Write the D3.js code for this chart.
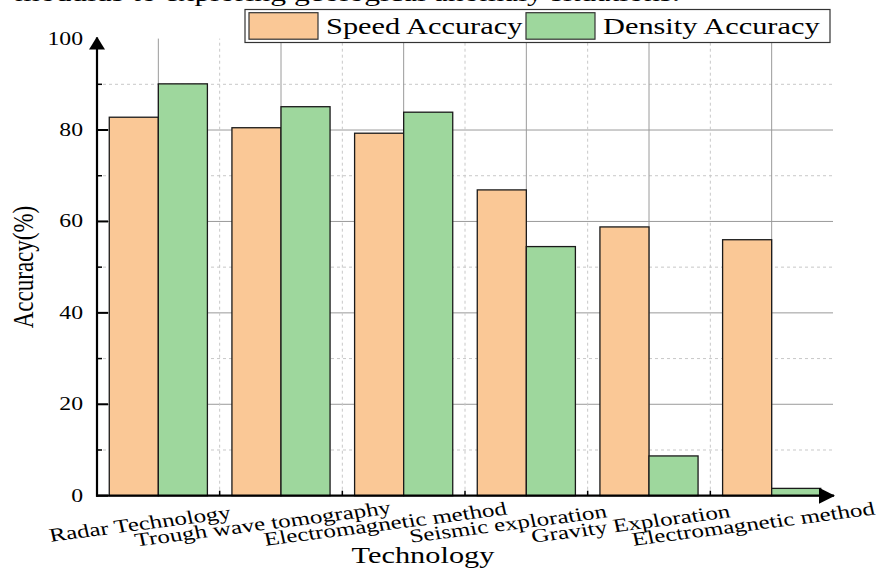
<!DOCTYPE html>
<html>
<head>
<meta charset="utf-8">
<script src="https://cdn.jsdelivr.net/npm/d3@7"></script>
<style>
  body { margin: 0; background: #fff; }
  svg { display: block; }
</style>
</head>
<body>
<div id="chart"></div>
<script>
// chart data
const categories = ["Radar Technology", "Trough wave tomography", "Electromagnetic method",
    "Seismic exploration", "Gravity Exploration", "Electromagnetic method"];
const seriesNames = ["Speed Accuracy", "Density Accuracy"];
const speedAccuracy = [82.8, 80.5, 79.3, 66.9, 58.8, 56.0];
const densityAccuracy = [90.1, 85.1, 83.9, 54.5, 8.7, 1.6];
const yTicks = [0, 20, 40, 60, 80, 100];
const yMinorTicks = [10, 30, 50, 70, 90];
const captionText = "modulus to exploring geological anomaly situations.";

const width = 879, height = 569;
const SX = 1.32; // the original picture is stretched horizontally
const font = "'Liberation Serif', 'Times New Roman', serif";
const colors = { "Speed Accuracy": "#fac896", "Density Accuracy": "#9ed79d" };

const margin = { left: 97, right: 46, top: 38.6, bottom: 73.3 };
const plotRight = width - margin.right;
const plotBottom = height - margin.bottom;

const svg = d3.select("#chart").append("svg")
    .attr("width", width)
    .attr("height", height);

const defs = svg.append("defs");
defs.append("marker")
    .attr("id", "arrowUp")
    .attr("viewBox", "0 0 16 14")
    .attr("refX", 8).attr("refY", 1)
    .attr("markerWidth", 16).attr("markerHeight", 14)
    .attr("markerUnits", "userSpaceOnUse")
    .attr("orient", "0")
    .append("path").attr("d", "M0,13 L8,0 L16,13 Z").attr("fill", "#000");
defs.append("marker")
    .attr("id", "arrowRight")
    .attr("viewBox", "0 0 16 16")
    .attr("refX", 15).attr("refY", 8)
    .attr("markerWidth", 16).attr("markerHeight", 16)
    .attr("markerUnits", "userSpaceOnUse")
    .attr("orient", "0")
    .append("path").attr("d", "M0,0 L16,8 L0,16 Z").attr("fill", "#000");

const x = d3.scaleBand()
    .domain(d3.range(categories.length))
    .range([margin.left, plotRight])
    .padding(0);

const xInner = d3.scaleBand()
    .domain(seriesNames)
    .range([x.bandwidth() * 0.1, x.bandwidth() * 0.9]);

const y = d3.scaleLinear()
    .domain([0, 100])
    .range([plotBottom, margin.top]);

// stretched text helper
function stretchedText(g, tx, ty, rot) {
    return g.append("text")
        .attr("transform", `translate(${tx},${ty}) scale(${SX},1)` + (rot ? ` rotate(${rot})` : ""))
        .attr("font-family", font)
        .attr("fill", "#000");
}

// caption cut off at the top
stretchedText(svg, 680, 1)
    .attr("text-anchor", "end")
    .attr("font-size", 24)
    .text(captionText);

// grid
const grid = svg.append("g");
grid.selectAll(".hmin").data(yMinorTicks).join("line")
    .attr("x1", margin.left).attr("x2", plotRight)
    .attr("y1", d => y(d)).attr("y2", d => y(d))
    .attr("stroke", "#c8c8c8").attr("stroke-width", 1)
    .attr("stroke-dasharray", "3,3");
grid.selectAll(".hmaj").data(yTicks.filter(d => d > 0 && d < 100)).join("line")
    .attr("x1", margin.left).attr("x2", plotRight)
    .attr("y1", d => y(d)).attr("y2", d => y(d))
    .attr("stroke", "#9a9a9a").attr("stroke-width", 1);
grid.selectAll(".vmin").data(d3.range(1, categories.length)).join("line")
    .attr("x1", d => x(d)).attr("x2", d => x(d))
    .attr("y1", y(0)).attr("y2", y(100))
    .attr("stroke", "#c8c8c8").attr("stroke-width", 1)
    .attr("stroke-dasharray", "3,3");
grid.selectAll(".vmaj").data(d3.range(categories.length)).join("line")
    .attr("x1", d => x(d) + x.bandwidth() / 2).attr("x2", d => x(d) + x.bandwidth() / 2)
    .attr("y1", y(0)).attr("y2", y(100))
    .attr("stroke", "#9a9a9a").attr("stroke-width", 1);

// bars
const rows = categories.map((c, i) => ({
    i, values: [
        { key: seriesNames[0], value: speedAccuracy[i] },
        { key: seriesNames[1], value: densityAccuracy[i] }
    ]
}));

const groups = svg.append("g").selectAll("g").data(rows).join("g")
    .attr("transform", d => `translate(${x(d.i)},0)`);

groups.selectAll("rect").data(d => d.values).join("rect")
    .attr("x", d => xInner(d.key))
    .attr("y", d => y(d.value))
    .attr("width", xInner.bandwidth())
    .attr("height", d => y(0) - y(d.value))
    .attr("fill", d => colors[d.key])
    .attr("stroke", "#1a1a1a")
    .attr("stroke-width", 1.3);

// axes
const axes = svg.append("g");
axes.append("line")
    .attr("x1", margin.left).attr("x2", margin.left)
    .attr("y1", y(0) + 1).attr("y2", y(100) - 1)
    .attr("stroke", "#000").attr("stroke-width", 2.2)
    .attr("marker-end", "url(#arrowUp)");
axes.append("line")
    .attr("x1", margin.left - 1).attr("x2", plotRight + 1)
    .attr("y1", y(0)).attr("y2", y(0))
    .attr("stroke", "#000").attr("stroke-width", 2.2)
    .attr("marker-end", "url(#arrowRight)");

// y ticks
axes.selectAll(".ymaj").data(yTicks.filter(d => d < 100)).join("line")
    .attr("x1", margin.left).attr("x2", margin.left + 11)
    .attr("y1", d => y(d)).attr("y2", d => y(d))
    .attr("stroke", "#000").attr("stroke-width", 2);
axes.selectAll(".ymin").data(yMinorTicks).join("line")
    .attr("x1", margin.left).attr("x2", margin.left + 5)
    .attr("y1", d => y(d)).attr("y2", d => y(d))
    .attr("stroke", "#000").attr("stroke-width", 1.5);
// x minor ticks at category boundaries
axes.selectAll(".xmin").data(d3.range(1, categories.length)).join("line")
    .attr("x1", d => x(d)).attr("x2", d => x(d))
    .attr("y1", y(0)).attr("y2", y(0) - 5)
    .attr("stroke", "#000").attr("stroke-width", 1.5);

yTicks.forEach(t => {
    stretchedText(axes, margin.left - 14, y(t) + 6)
        .attr("text-anchor", "end")
        .attr("font-size", 18)
        .text(t);
});

// category labels
categories.forEach((c, i) => {
    stretchedText(axes, x(i) + x.bandwidth() / 2 - 17, 530, -9.7)
        .attr("text-anchor", "middle")
        .attr("font-size", 19)
        .text(c);
});

// axis titles
stretchedText(svg, (margin.left + plotRight) / 2 - 42, 562.5)
    .attr("text-anchor", "middle")
    .attr("font-size", 23)
    .text("Technology");

svg.append("text")
    .attr("transform", `translate(33,267) scale(${SX},1) rotate(-90)`)
    .attr("text-anchor", "middle")
    .attr("font-family", font)
    .attr("font-size", 23)
    .text("Accuracy(%)");

// legend
const legend = svg.append("g");
legend.append("rect")
    .attr("x", 245).attr("y", 9.5)
    .attr("width", 585).attr("height", 33)
    .attr("fill", "#fff")
    .attr("stroke", "#333").attr("stroke-width", 1.2);
const legendX = [249, 526];
seriesNames.forEach((s, i) => {
    legend.append("rect")
        .attr("x", legendX[i]).attr("y", 12.7)
        .attr("width", 69).attr("height", 26.5)
        .attr("fill", colors[s])
        .attr("stroke", "#333").attr("stroke-width", 1.2);
    stretchedText(legend, legendX[i] + 77, 34)
        .attr("font-size", 23)
        .text(s);
});
</script>
</body>
</html>
